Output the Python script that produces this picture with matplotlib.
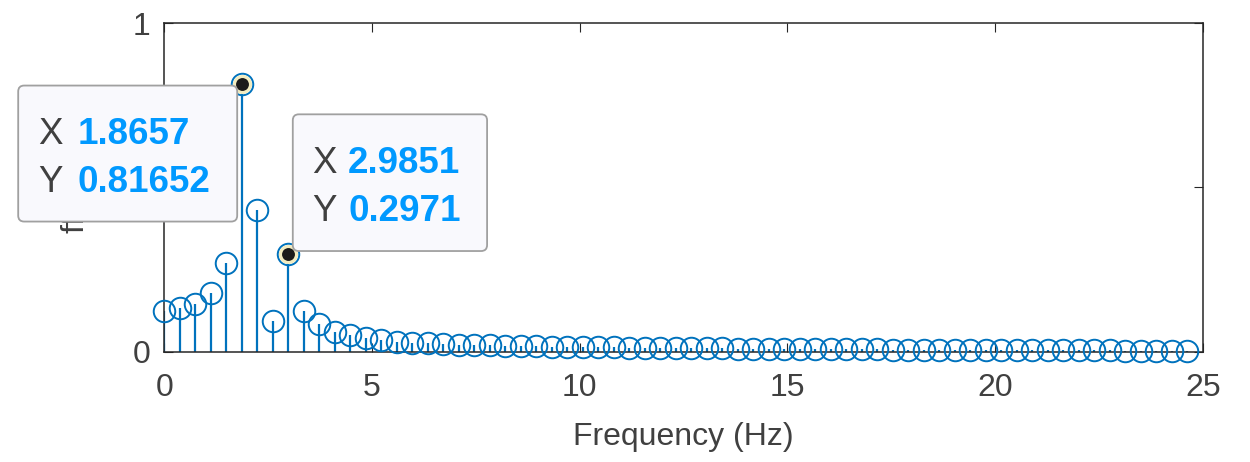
import numpy as np
import matplotlib
matplotlib.use('Agg')
import matplotlib.pyplot as plt
from matplotlib.patches import FancyBboxPatch
from matplotlib.transforms import Affine2D

plt.rcParams['font.family'] = ['Liberation Sans', 'DejaVu Sans']

# frequency bins (Hz) and single-sided amplitude
freqs = [0.0, 0.3731, 0.7463, 1.1194, 1.4925, 1.8657, 2.2388, 2.6119, 2.9851, 3.3582,
         3.7313, 4.1045, 4.4776, 4.8507, 5.2239, 5.5970, 5.9701, 6.3433, 6.7164, 7.0896,
         7.4627, 7.8358, 8.2090, 8.5821, 8.9552, 9.3284, 9.7015, 10.0746, 10.4478, 10.8209,
         11.1940, 11.5672, 11.9403, 12.3134, 12.6866, 13.0597, 13.4328, 13.8060, 14.1791, 14.5522,
         14.9254, 15.2985, 15.6716, 16.0448, 16.4179, 16.7910, 17.1642, 17.5373, 17.9104, 18.2836,
         18.6567, 19.0299, 19.4030, 19.7761, 20.1493, 20.5224, 20.8955, 21.2687, 21.6418, 22.0149,
         22.3881, 22.7612, 23.1343, 23.5075, 23.8806, 24.2537, 24.6269]
amps = [0.123, 0.133, 0.145, 0.179, 0.270, 0.81652, 0.433, 0.094, 0.2971, 0.125,
        0.083, 0.061, 0.050, 0.041, 0.035, 0.031, 0.028, 0.025, 0.023, 0.021,
        0.020, 0.019, 0.018, 0.017, 0.016, 0.015, 0.015, 0.014, 0.013, 0.013,
        0.012, 0.012, 0.011, 0.011, 0.010, 0.010, 0.010, 0.009, 0.009, 0.009,
        0.008, 0.008, 0.008, 0.007, 0.007, 0.007, 0.007, 0.006, 0.006, 0.006,
        0.006, 0.005, 0.005, 0.005, 0.005, 0.005, 0.004, 0.004, 0.004, 0.004,
        0.004, 0.004, 0.003, 0.003, 0.003, 0.003, 0.003]

# data tips
tip_idx = [5, 8]
tip_x_txt = ['1.8657', '2.9851']
tip_y_txt = ['0.81652', '0.2971']

xticks = [0, 5, 10, 15, 20, 25]
yticks = [0, 0.5, 1]

blue = '#0072BD'
axcol = '#262626'

fig = plt.figure(figsize=(12.5, 4.62), dpi=100)
ax = fig.add_axes([164.3 / 1250, 1 - 351.7 / 462, 1038.4 / 1250, 328.4 / 462])

markerline, stemlines, baseline = ax.stem(freqs, amps, basefmt=' ')
plt.setp(stemlines, color=blue, linewidth=1.6)
plt.setp(markerline, marker='o', markersize=15.5, markerfacecolor='none',
         markeredgecolor=blue, markeredgewidth=1.4, clip_on=False, zorder=3)

ax.set_xlim(0, 25)
ax.set_ylim(0, 1)
ax.set_xticks(xticks)
ax.set_yticks(yticks)
ax.set_yticklabels(['0', '0.5', '1'])
ax.tick_params(direction='in', length=6.5, width=0.8, top=True, right=True,
               labelsize=23, colors=axcol, labelcolor='#404040')
ax.tick_params(axis='x', pad=15)
ax.tick_params(axis='y', pad=10)
for s in ax.spines.values():
    s.set_color(axcol)
    s.set_linewidth(1.1)

ax.set_xlabel('Frequency (Hz)', fontsize=23, color='#404040')
ax.xaxis.set_label_coords(0.5, -0.214)
ax.set_ylabel('fft mag', fontsize=23, color='#404040')
ax.yaxis.set_label_coords(-0.071, 0.51)

# datatip boxes: (box x0, box y0, w, h, X text dx, value dx, line1 dy, line2 dy) in pixels from the point
tip_layout = [(-223.6, -138, 219, 136, -203.6, -164.6, -60.5, -108.5),
              (4.5, 3.1, 194.3, 136.7, 23.5, 59.8, 81.3, 33.0)]

for i, k in enumerate(tip_idx):
    x, y = freqs[k], amps[k]
    ax.plot([x], [y], 'o', markersize=11.5, markerfacecolor='#1a1a1a',
            markeredgecolor='#f2ecc0', markeredgewidth=2.2, zorder=5, clip_on=False)
    px, py = ax.transData.transform((x, y))
    tr = Affine2D().translate(px, py)
    bx, by, bw, bh, tx, vx, l1, l2 = tip_layout[i]
    box = FancyBboxPatch((bx, by), bw, bh, boxstyle='round,pad=0,rounding_size=6',
                         facecolor='#f9f9fd', edgecolor='#a0a0a0', linewidth=1.3,
                         transform=tr, clip_on=False, zorder=10)
    ax.add_patch(box)
    ax.text(tx, l1, 'X', transform=tr, fontsize=26.5, color='#404040',
            ha='left', va='baseline', zorder=11, clip_on=False)
    ax.text(vx, l1, tip_x_txt[i], transform=tr, fontsize=26.5, color='#0099ff',
            fontweight='bold', ha='left', va='baseline', zorder=11, clip_on=False)
    ax.text(tx, l2, 'Y', transform=tr, fontsize=26.5, color='#404040',
            ha='left', va='baseline', zorder=11, clip_on=False)
    ax.text(vx, l2, tip_y_txt[i], transform=tr, fontsize=26.5, color='#0099ff',
            fontweight='bold', ha='left', va='baseline', zorder=11, clip_on=False)

fig.savefig('out.png', dpi=100)
